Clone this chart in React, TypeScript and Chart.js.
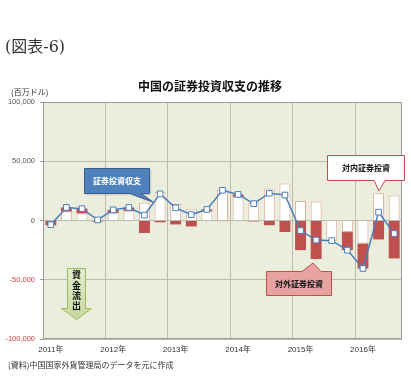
import React, { useEffect, useRef } from 'react';
import { Chart, registerables } from 'chart.js';
Chart.register(...registerables);

// 2011Q1 .. 2016Q3
const quarterLabels = [
  '2011Q1', '2011Q2', '2011Q3', '2011Q4',
  '2012Q1', '2012Q2', '2012Q3', '2012Q4',
  '2013Q1', '2013Q2', '2013Q3', '2013Q4',
  '2014Q1', '2014Q2', '2014Q3', '2014Q4',
  '2015Q1', '2015Q2', '2015Q3', '2015Q4',
  '2016Q1', '2016Q2', '2016Q3',
];
const yearTickLabels = ['2011年', '', '', '', '2012年', '', '', '', '2013年', '', '', '', '2014年', '', '', '', '2015年', '', '', '', '2016年', '', ''];

// 百万ドル
const inwardInvestment = [500, 7500, 6000, 1500, 6500, 8200, 15000, 24000, 14000, 10000, 8000, 26000, 20000, 15000, 27000, 31200, 16500, 16000, -17000, -9800, -19500, 23000, 21000];
const outwardInvestment = [-4000, 3500, 4000, -1000, 2500, 2800, -10500, -1500, -3300, -5000, 1300, -500, 2000, -800, -4000, -9700, -25000, -32500, 0, -15200, -21000, -16000, -32000];
const portfolioBalance = [-3500, 11000, 10000, 500, 9000, 11000, 4500, 22500, 10700, 5000, 9300, 25500, 22000, 14200, 23000, 21500, -8500, -16500, -17000, -25000, -40500, 7000, -11000];

const yMin = -100000;
const yMax = 100000;
const yStep = 50000;

const PLOT_BG = '#ebeedd';
const GRID = '#b9bcae';
const RED = '#c0504d';
const BLUE = '#4a7ebb';
const CJK = '"Noto Sans CJK JP", "Noto Sans", sans-serif';

function calloutPath(ctx: CanvasRenderingContext2D, x: number, y: number, w: number, h: number, side: 'top' | 'bottom', p1: number, p2: number, tx: number, ty: number) {
  ctx.beginPath();
  if (side === 'top') {
    ctx.moveTo(x, y);
    ctx.lineTo(p1, y);
    ctx.lineTo(tx, ty);
    ctx.lineTo(p2, y);
    ctx.lineTo(x + w, y);
    ctx.lineTo(x + w, y + h);
    ctx.lineTo(x, y + h);
  } else {
    ctx.moveTo(x, y);
    ctx.lineTo(x + w, y);
    ctx.lineTo(x + w, y + h);
    ctx.lineTo(p2, y + h);
    ctx.lineTo(tx, ty);
    ctx.lineTo(p1, y + h);
    ctx.lineTo(x, y + h);
  }
  ctx.closePath();
}

const decorPlugin = {
  id: 'decor',
  beforeDraw(chart: any) {
    const { ctx, chartArea: a } = chart;
    ctx.save();
    ctx.fillStyle = PLOT_BG;
    ctx.fillRect(a.left, a.top, a.right - a.left, a.bottom - a.top);
    ctx.restore();
  },
  afterDraw(chart: any) {
    const { ctx, chartArea: a } = chart;
    ctx.save();
    ctx.strokeStyle = '#9a9a9a';
    ctx.lineWidth = 1;
    ctx.strokeRect(Math.round(a.left) + 0.5, Math.round(a.top) + 0.5, Math.round(a.right - a.left) - 1, Math.round(a.bottom - a.top) - 1);

    // blue callout 証券投資収支
    ctx.shadowColor = 'rgba(0,0,0,0.25)';
    ctx.shadowOffsetX = 1;
    ctx.shadowOffsetY = 1;
    ctx.shadowBlur = 2;
    calloutPath(ctx, 84.5, 168.5, 65, 25, 'bottom', 130, 141, 153, 202);
    ctx.fillStyle = '#4f81bd';
    ctx.fill();
    ctx.shadowColor = 'transparent';
    ctx.strokeStyle = '#385d8a';
    ctx.stroke();
    ctx.fillStyle = '#ffffff';
    ctx.font = `bold 8px ${CJK}`;
    ctx.textAlign = 'center';
    ctx.textBaseline = 'middle';
    ctx.fillText('証券投資収支', 117, 181);

    // white callout 対内証券投資
    calloutPath(ctx, 327.5, 155.5, 77, 25, 'bottom', 374, 385, 379, 191);
    ctx.fillStyle = '#ffffff';
    ctx.fill();
    ctx.strokeStyle = RED;
    ctx.stroke();
    ctx.fillStyle = '#111111';
    ctx.fillText('対内証券投資', 366, 168);

    // pink callout 対外証券投資
    calloutPath(ctx, 266.5, 271.5, 65, 24, 'top', 302, 321, 313, 263);
    ctx.fillStyle = '#e6a3a2';
    ctx.fill();
    ctx.strokeStyle = RED;
    ctx.stroke();
    ctx.fillStyle = '#111111';
    ctx.fillText('対外証券投資', 299, 284);

    // green arrow 資金流出
    ctx.beginPath();
    ctx.moveTo(67.5, 268.5);
    ctx.lineTo(85.5, 268.5);
    ctx.lineTo(85.5, 308.5);
    ctx.lineTo(91.5, 308.5);
    ctx.lineTo(76.5, 319.5);
    ctx.lineTo(61.5, 308.5);
    ctx.lineTo(67.5, 308.5);
    ctx.closePath();
    const g = ctx.createLinearGradient(0, 268, 0, 320);
    g.addColorStop(0, '#e4ecd0');
    g.addColorStop(1, '#c6d89e');
    ctx.fillStyle = g;
    ctx.fill();
    ctx.strokeStyle = '#9bbb59';
    ctx.stroke();
    ctx.fillStyle = '#111111';
    ctx.font = `bold 9px ${CJK}`;
    const chars = ['資', '金', '流', '出'];
    const ys = [275, 285.5, 296, 305.5];
    chars.forEach((c, i) => ctx.fillText(c, 76.5, ys[i]));
    ctx.restore();
  },
};

export default function App() {
  const ref = useRef<HTMLCanvasElement | null>(null);
  useEffect(() => {
    if (!ref.current) return;
    const chart = new Chart(ref.current, {
      type: 'bar',
      data: {
        labels: quarterLabels,
        datasets: [
          {
            type: 'line',
            label: '証券投資収支',
            data: portfolioBalance,
            borderColor: BLUE,
            borderWidth: 1.5,
            backgroundColor: '#ffffff',
            pointStyle: 'rect',
            pointRadius: 4,
            pointBorderWidth: 1,
            pointBorderColor: BLUE,
            pointBackgroundColor: '#ffffff',
            tension: 0,
            stack: 'line',
            order: 0,
          } as any,
          {
            type: 'bar',
            label: '対内証券投資',
            data: inwardInvestment,
            backgroundColor: '#ffffff',
            borderColor: '#dfae9f',
            borderWidth: 1,
            barPercentage: 0.7,
            categoryPercentage: 1,
            stack: 'bars',
            order: 1,
          },
          {
            type: 'bar',
            label: '対外証券投資',
            data: outwardInvestment,
            backgroundColor: RED,
            borderWidth: 0,
            barPercentage: 0.7,
            categoryPercentage: 1,
            stack: 'bars',
            order: 2,
          },
        ],
      },
      options: {
        responsive: false,
        animation: false,
        devicePixelRatio: 1,
        layout: { padding: { left: 0, right: 9, top: 102, bottom: 18 } },
        plugins: { legend: { display: false }, tooltip: { enabled: false }, title: { display: false } },
        scales: {
          x: {
            stacked: true,
            offset: true,
            border: { display: false },
            grid: {
              offset: true,
              drawTicks: false,
              color: (c: any) => (typeof c.index === 'number' && c.index % 4 === 0 && c.index > 0 ? GRID : 'rgba(0,0,0,0)'),
              lineWidth: 1,
            },
            ticks: {
              autoSkip: false,
              maxRotation: 0,
              minRotation: 0,
              padding: 6,
              color: '#333333',
              font: { size: 8, family: '"Liberation Sans", "Noto Sans CJK JP", sans-serif' },
              callback: (_v: any, i: number) => yearTickLabels[i],
            },
            afterFit: (s: any) => { s.height = 20; },
          },
          y: {
            stacked: true,
            min: yMin,
            max: yMax,
            border: { display: false },
            grid: {
              color: GRID,
              tickLength: 3,
              drawTicks: true,
              tickColor: '#9a9a9a',
            },
            ticks: {
              stepSize: yStep,
              padding: 5,
              color: (c: any) => (c.tick && c.tick.value < 0 ? '#d0403f' : '#555555'),
              font: { size: 7.5, family: '"Liberation Sans", sans-serif' },
              callback: (v: any) => Number(v).toLocaleString('en-US'),
            },
            afterFit: (s: any) => { s.width = 43; },
          },
        },
      },
      plugins: [decorPlugin],
    });
    return () => chart.destroy();
  }, []);

  const txt = (style: React.CSSProperties, s: string) => (
    <div style={{ position: 'absolute', whiteSpace: 'nowrap', fontFamily: CJK, color: '#222', ...style }}>{s}</div>
  );

  return (
    <div style={{ position: 'absolute', left: 0, top: 0, width: 411, height: 377, background: '#ffffff', overflow: 'hidden' }}>
      <canvas ref={ref} width={411} height={377} style={{ position: 'absolute', left: 0, top: 0, width: 411, height: 377 }} />
      {txt({ left: 5, top: 37, fontSize: 16, lineHeight: '20px', fontFamily: '"DejaVu Serif", "Noto Sans CJK JP", serif', color: '#333' }, '(図表-6)')}
      {txt({ left: 0, width: 420, textAlign: 'center', top: 79, fontSize: 12, lineHeight: '14px', fontWeight: 'bold', color: '#111' }, '中国の証券投資収支の推移')}
      {txt({ left: 11, top: 87, fontSize: 8, lineHeight: '10px', color: '#333' }, '(百万ドル)')}
      {txt({ left: 8, top: 360, fontSize: 8, lineHeight: '10px', color: '#333' }, '(資料)中国国家外貨管理局のデータを元に作成')}
    </div>
  );
}
